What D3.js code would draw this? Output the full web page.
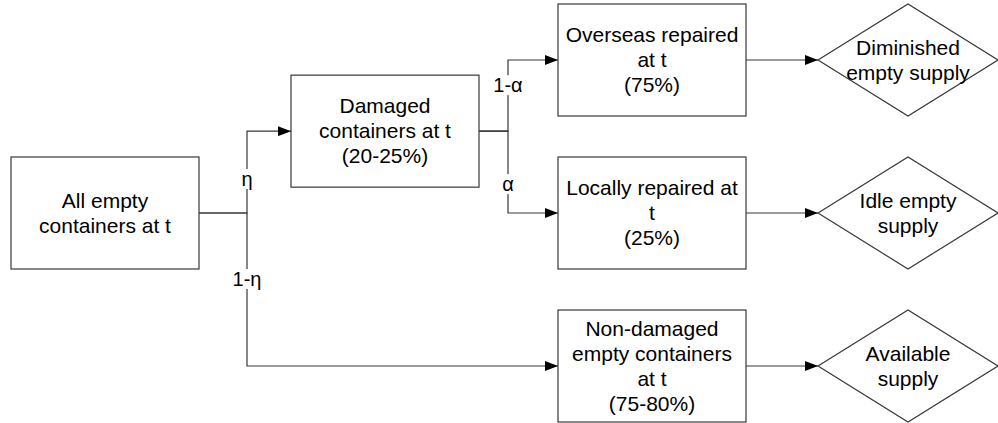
<!DOCTYPE html>
<html>
<head>
<meta charset="utf-8">
<script src="https://cdn.jsdelivr.net/npm/d3@7"></script>
<style>
  body { margin: 0; background: #fff; }
  text { font-family: "Liberation Sans", Arial, sans-serif; fill: #000; }
</style>
</head>
<body>
<div id="canvas"></div>
<script>
// ---- data ----
// process boxes: label lines, column and row in the flow grid
var boxes = [
    { id: "all",   lines: ["All empty", "containers at t"],                     col: 0, row: 1 },
    { id: "dam",   lines: ["Damaged", "containers at t", "(20-25%)"],          col: 1, row: 0.465 },
    { id: "over",  lines: ["Overseas repaired", "at t", "(75%)"],              col: 2, row: 0 },
    { id: "local", lines: ["Locally repaired at", "t", "(25%)"],               col: 2, row: 1 },
    { id: "non",   lines: ["Non-damaged", "empty containers", "at t", "(75-80%)"], col: 2, row: 2 }
];
// outcome diamonds
var outcomes = [
    { id: "dim",   lines: ["Diminished", "empty supply"], col: 3, row: 0 },
    { id: "idle",  lines: ["Idle empty", "supply"],       col: 3, row: 1 },
    { id: "avail", lines: ["Available", "supply"],        col: 3, row: 2 }
];
// split branches with their probability labels
var splits = [
    { from: "all", to: "dam",   label: "η" },
    { from: "all", to: "non",   label: "1-η" },
    { from: "dam", to: "over",  label: "1-α" },
    { from: "dam", to: "local", label: "α" }
];
// straight links box -> outcome
var links = [
    { from: "over",  to: "dim" },
    { from: "local", to: "idle" },
    { from: "non",   to: "avail" }
];

// ---- layout ----
var w = 998, h = 423;
var boxW = 188, boxH = 112, diaW = 180, diaH = 112;
var lineH = 25, stroke = "#383838";
var branchGap = { all: 48, dam: 29 };                 // junction distance from box edge
var labelShift = { "η": -34, "1-η": 66, "1-α": -46, "α": 53 }; // label offset from junction

var x = d3.scaleOrdinal().domain([0, 1, 2, 3]).range([105, 385, 652, 908]);
var y = d3.scaleLinear().domain([0, 2]).range([60, 366]);

var svg = d3.select("#canvas").append("svg").attr("width", w).attr("height", h);

svg.append("defs").append("marker")
    .attr("id", "arrow")
    .attr("markerUnits", "userSpaceOnUse")
    .attr("viewBox", "0 0 13 10")
    .attr("refX", 13).attr("refY", 5)
    .attr("markerWidth", 13).attr("markerHeight", 10)
    .attr("orient", "auto")
    .append("path").attr("d", "M0,0L13,5L0,10Z").attr("fill", "#000");

var nodeById = {};
boxes.forEach(function(b) { nodeById[b.id] = { cx: x(b.col), cy: y(b.row), w: boxW, h: boxH }; });
outcomes.forEach(function(o) { nodeById[o.id] = { cx: x(o.col), cy: y(o.row), w: diaW, h: diaH }; });

var g_lines = svg.append("g").attr("name", "lines");
var g_nodes = svg.append("g").attr("name", "nodes");
var g_labels = svg.append("g").attr("name", "labels");

// split branches: elbow paths via a junction
splits.forEach(function(s) {
    var a = nodeById[s.from], b = nodeById[s.to];
    var jx = a.cx + a.w / 2 + branchGap[s.from];
    var path = d3.path();
    path.moveTo(a.cx + a.w / 2, a.cy);
    path.lineTo(jx, a.cy);
    path.lineTo(jx, b.cy);
    path.lineTo(b.cx - b.w / 2, b.cy);
    g_lines.append("path")
        .attr("d", path.toString())
        .attr("fill", "none")
        .attr("stroke", stroke)
        .attr("stroke-width", 1.2)
        .attr("marker-end", "url(#arrow)");

    var lg = g_labels.append("g").attr("transform", "translate(" + jx + "," + (a.cy + labelShift[s.label]) + ")");
    var t = lg.append("text")
        .attr("text-anchor", "middle")
        .attr("dy", "0.35em")
        .style("font-size", "20px")
        .text(s.label);
    var bb = t.node().getBBox();
    lg.insert("rect", "text")
        .attr("x", bb.x - 2).attr("y", bb.y + 1)
        .attr("width", bb.width + 4).attr("height", bb.height - 2)
        .attr("fill", "#fff");
});

links.forEach(function(l) {
    var a = nodeById[l.from], b = nodeById[l.to];
    g_lines.append("line")
        .attr("x1", a.cx + a.w / 2).attr("y1", a.cy)
        .attr("x2", b.cx - b.w / 2).attr("y2", b.cy)
        .attr("stroke", stroke)
        .attr("stroke-width", 1.2)
        .attr("marker-end", "url(#arrow)");
});

function addLines(group, lines) {
    group.selectAll("text").data(lines).enter().append("text")
        .attr("text-anchor", "middle")
        .attr("x", 0)
        .attr("y", function(d, i) { return (i - (lines.length - 1) / 2) * lineH + 7; })
        .style("font-size", "21px")
        .text(function(d) { return d; });
}

boxes.forEach(function(b) {
    var n = nodeById[b.id];
    var group = g_nodes.append("g").attr("transform", "translate(" + n.cx + "," + n.cy + ")");
    group.append("rect")
        .attr("x", -n.w / 2).attr("y", -n.h / 2)
        .attr("width", n.w).attr("height", n.h)
        .attr("fill", "#fff").attr("stroke", stroke).attr("stroke-width", 1.2);
    addLines(group, b.lines);
});

outcomes.forEach(function(o) {
    var n = nodeById[o.id];
    var group = g_nodes.append("g").attr("transform", "translate(" + n.cx + "," + n.cy + ")");
    group.append("path")
        .attr("d", "M" + (-n.w / 2) + ",0L0," + (-n.h / 2) + "L" + (n.w / 2) + ",0L0," + (n.h / 2) + "Z")
        .attr("fill", "none").attr("stroke", stroke).attr("stroke-width", 1.2);
    addLines(group, o.lines);
});
</script>
</body>
</html>
